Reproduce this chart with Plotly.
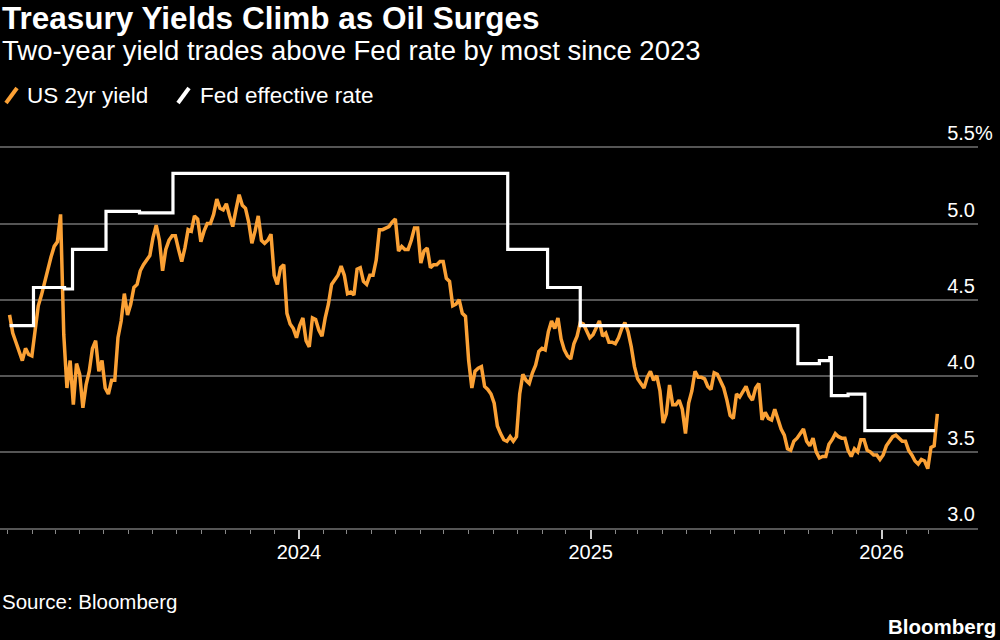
import pandas as pd
import plotly.graph_objects as go

# ---------------- data ----------------
yield_start = "2023-01-03"
yield_step = "4D"
us2y = [
    4.40, 4.28, 4.22, 4.16, 4.10, 4.18, 4.14, 4.13, 4.30, 4.46,
    4.53, 4.62, 4.69, 4.78, 4.85, 4.88, 5.06, 4.27, 3.92, 4.10,
    3.81, 4.08, 4.01, 3.79, 3.94, 4.03, 4.18, 4.23, 4.03, 4.10,
    3.92, 3.88, 3.97, 3.97, 4.25, 4.36, 4.54, 4.40, 4.47, 4.58,
    4.60, 4.69, 4.73, 4.76, 4.79, 4.91, 4.99, 4.89, 4.69, 4.83,
    4.89, 4.92, 4.92, 4.83, 4.75, 4.84, 4.96, 4.95, 5.05, 5.03,
    4.88, 4.95, 5.00, 5.00, 5.06, 5.16, 5.10, 5.09, 5.13, 5.05,
    4.98, 5.09, 5.19, 5.12, 5.10, 5.01, 4.87, 4.95, 5.05, 4.89,
    4.87, 4.89,
    4.93, 4.66, 4.60, 4.71, 4.73, 4.41, 4.34, 4.31, 4.25, 4.33,
    4.38, 4.23, 4.19, 4.38, 4.37, 4.30, 4.26, 4.38, 4.47, 4.60,
    4.63, 4.66, 4.72, 4.66, 4.54, 4.55, 4.53, 4.70, 4.71, 4.62,
    4.60, 4.66, 4.66, 4.76, 4.96, 4.96, 4.97, 4.98, 5.01, 5.03,
    4.82, 4.85, 4.83,
    4.83, 4.89, 4.97, 4.97, 4.74, 4.82, 4.84, 4.71, 4.73, 4.73,
    4.75, 4.75, 4.64, 4.62, 4.46, 4.47, 4.50, 4.41, 4.39, 4.10,
    3.92, 4.03, 4.05, 4.06, 3.93, 3.91, 3.88, 3.82, 3.67, 3.62,
    3.58, 3.57, 3.60, 3.57, 3.60, 3.88, 4.01, 3.97, 3.95, 4.02,
    4.07, 4.16,
    4.18, 4.17, 4.29, 4.36, 4.31, 4.38, 4.24, 4.17, 4.13, 4.11,
    4.21, 4.26, 4.35, 4.34, 4.29, 4.25, 4.27, 4.31, 4.36, 4.26,
    4.28, 4.22, 4.22, 4.21, 4.25, 4.31, 4.35, 4.29, 4.19, 4.06,
    3.98, 3.95, 3.92, 3.99, 4.03, 3.97, 4.00, 3.90, 3.69, 3.75,
    3.94, 3.81,
    3.81, 3.84, 3.78, 3.62, 3.82, 3.90, 4.03, 3.99, 3.99, 3.98,
    3.93, 3.91, 4.02, 4.01, 3.97, 3.92, 3.84, 3.74, 3.72, 3.88,
    3.86, 3.90, 3.93, 3.87, 3.84, 3.92, 3.95, 3.71, 3.76, 3.72,
    3.71, 3.78, 3.71, 3.65, 3.61, 3.52, 3.51, 3.57, 3.59, 3.62,
    3.65, 3.57, 3.54,
    3.59, 3.50, 3.46, 3.47, 3.47, 3.55, 3.58, 3.62, 3.60, 3.59,
    3.59, 3.51, 3.47, 3.52, 3.50, 3.58, 3.58, 3.51, 3.50, 3.48,
    3.48, 3.45, 3.48, 3.54, 3.57, 3.60, 3.61, 3.59, 3.57, 3.57,
    3.51, 3.48, 3.44, 3.42, 3.45, 3.44, 3.39, 3.53, 3.54, 3.75,
]
us2y_dates = pd.date_range(yield_start, periods=len(us2y), freq=yield_step)

fed_dates = ["2023-01-03", "2023-02-02", "2023-03-13", "2023-03-23", "2023-05-04",
             "2023-06-15", "2023-07-27", "2024-09-19", "2024-11-08", "2024-12-19",
             "2025-09-18", "2025-10-15", "2025-10-28", "2025-10-30", "2025-11-20",
             "2025-12-11", "2026-03-09"]
fed_rates = [4.33, 4.58, 4.57, 4.83, 5.08, 5.07, 5.33, 4.83, 4.58, 4.33,
             4.08, 4.10, 4.12, 3.87, 3.88, 3.64, 3.64]

y_ticks = [3.0, 3.5, 4.0, 4.5, 5.0, 5.5]
y_tick_text = ["3.0", "3.5", "4.0", "4.5", "5.0", "5.5"]
x_tick_vals = ["2024-01-01", "2025-01-01", "2026-01-01"]
x_tick_text = ["2024", "2025", "2026"]

title = "Treasury Yields Climb as Oil Surges"
subtitle = "Two-year yield trades above Fed rate by most since 2023"
series_names = ["US 2yr yield", "Fed effective rate"]
source = "Source: Bloomberg"

ORANGE = "#FBA135"
WHITE = "#FFFFFF"
GRID = "#555555"
FONT = "Liberation Sans"

# ---------------- layout geometry ----------------
W, H = 1000, 640
Y_TOP = 5.70
ML, MR, MB = 0, 22, 112
MT = 147 - round((Y_TOP - 5.5) * 152.4)
PW, PH = W - ML - MR, H - MT - MB


def px(xp):
    return (xp - ML) / PW


def py(yp):
    return (H - MB - yp) / PH


fig = go.Figure()
fig.add_trace(go.Scatter(x=us2y_dates, y=us2y, mode="lines", name=series_names[0],
                         line=dict(color=ORANGE, width=3.5), showlegend=False))
fig.add_trace(go.Scatter(x=fed_dates, y=fed_rates, mode="lines", name=series_names[1],
                         line=dict(color=WHITE, width=3.2, shape="hv"), showlegend=False))

annotations = [
    dict(text=f"<b>{title}</b>", x=px(0), y=py(18), xanchor="left", yanchor="middle",
         font=dict(size=31.5, color=WHITE, family=FONT)),
    dict(text=subtitle, x=px(0), y=py(50), xanchor="left", yanchor="middle",
         font=dict(size=27.5, color=WHITE, family=FONT)),
    dict(text=series_names[0], x=px(25), y=py(95), xanchor="left", yanchor="middle",
         font=dict(size=22.5, color=WHITE, family=FONT)),
    dict(text=series_names[1], x=px(198), y=py(95), xanchor="left", yanchor="middle",
         font=dict(size=22.5, color=WHITE, family=FONT)),
    dict(text="%", x=1.0, y=5.5, yref="y", xanchor="left", yanchor="bottom", yshift=1,
         xshift=-5, font=dict(size=20, color=WHITE, family=FONT)),
    dict(text=source, x=px(0), y=py(601), xanchor="left", yanchor="middle",
         font=dict(size=20.5, color=WHITE, family=FONT)),
    dict(text="<b>Bloomberg</b>", x=px(998), y=py(626), xanchor="right", yanchor="middle",
         font=dict(size=20.5, color=WHITE, family=FONT)),
]
for a in annotations:
    a.setdefault("xref", "paper")
    a.setdefault("yref", "paper")
    a["showarrow"] = False

shapes = [
    dict(type="line", xref="paper", yref="paper", x0=px(6), y0=py(103), x1=px(17), y1=py(88),
         line=dict(color=ORANGE, width=4)),
    dict(type="line", xref="paper", yref="paper", x0=px(178), y0=py(103), x1=px(189), y1=py(88),
         line=dict(color=WHITE, width=4)),
]

fig.update_layout(
    width=W, height=H,
    margin=dict(l=ML, r=MR, t=MT, b=MB, autoexpand=False),
    paper_bgcolor="#000000", plot_bgcolor="#000000",
    font=dict(family=FONT, color=WHITE),
    annotations=annotations, shapes=shapes,
    showlegend=False,
)
fig.update_xaxes(
    range=["2022-12-22", "2026-05-02"],
    tickvals=x_tick_vals, ticktext=x_tick_text,
    ticks="outside", ticklen=9, tickwidth=1.5, tickcolor="#cccccc",
    ticklabelstandoff=-4,
    minor=dict(ticks="outside", dtick="M1", tick0="2023-01-01", ticklen=4,
               tickcolor="#888888", tickwidth=1),
    showgrid=False, showline=True, linecolor=GRID, linewidth=1.5,
    tickfont=dict(size=20, color=WHITE, family=FONT),
    zeroline=False,
)
fig.update_yaxes(
    range=[3.0, Y_TOP], side="right",
    tickvals=y_ticks, ticktext=y_tick_text,
    ticklabelposition="inside top",
    showgrid=True, gridcolor=GRID, gridwidth=1.5,
    tickfont=dict(size=20, color=WHITE, family=FONT),
    zeroline=False, showline=False, ticks="",
)

fig.write_html(
    "out.html",
    config={"displayModeBar": False},
    post_script="document.body.style.margin='0';document.body.style.padding='0';"
                "document.body.style.background='#000';",
)
